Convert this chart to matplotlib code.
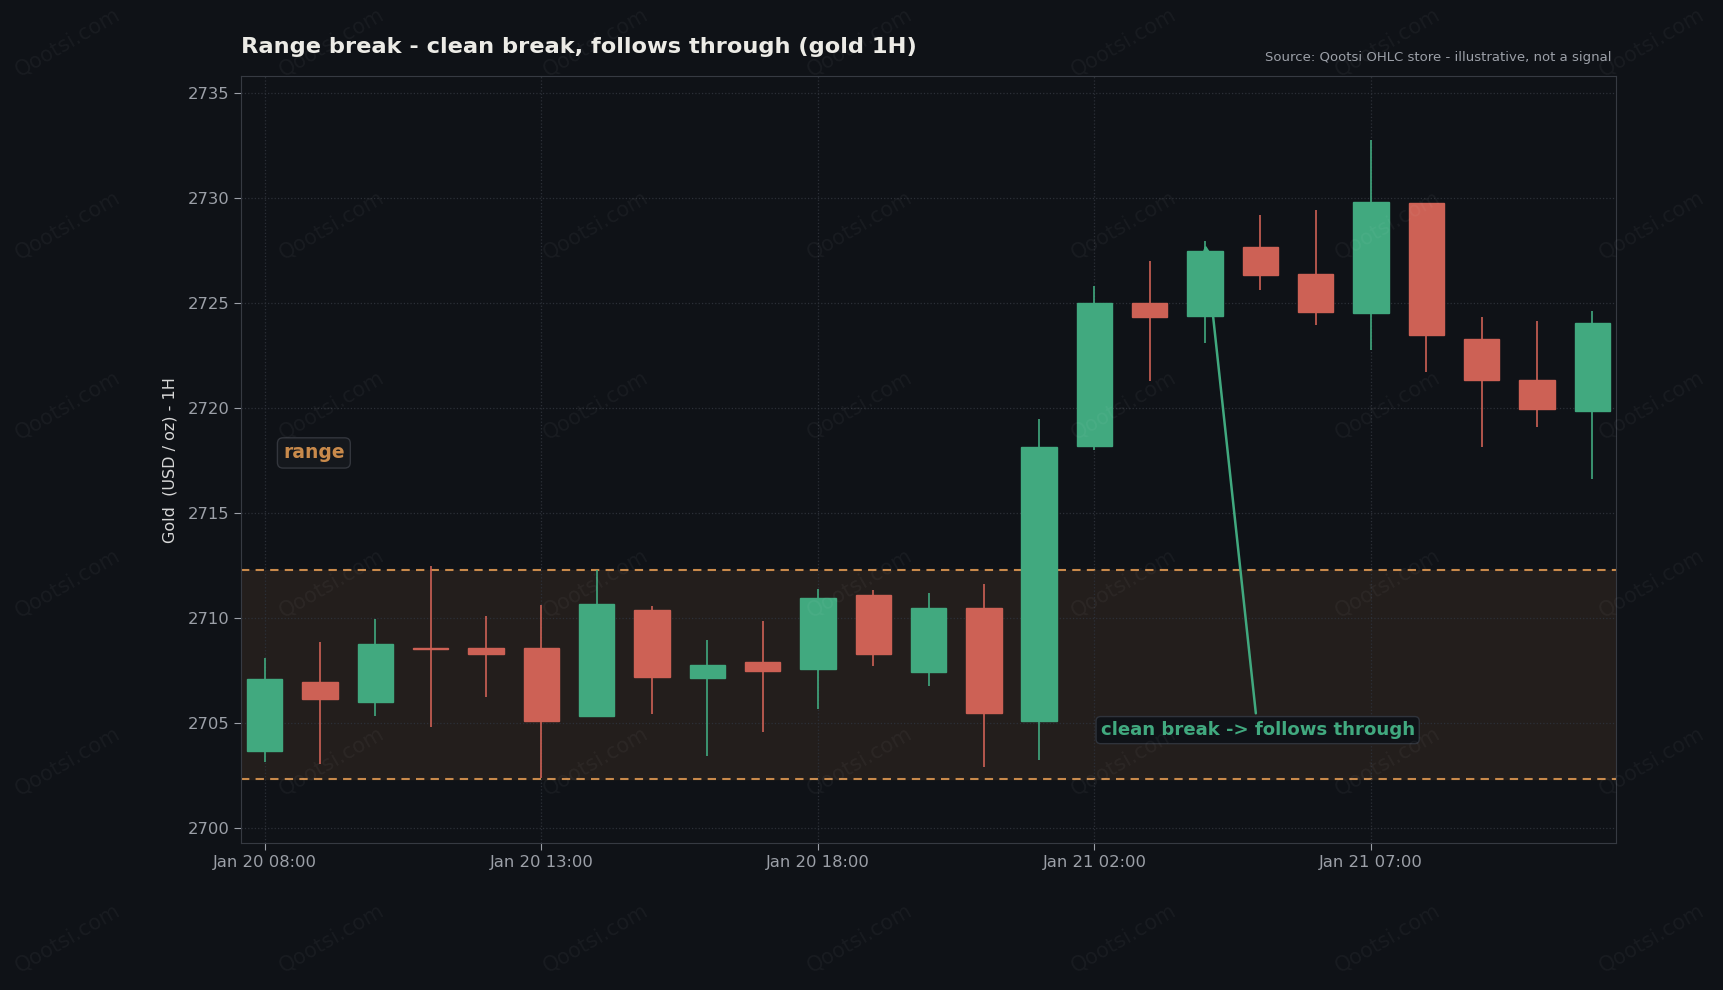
import matplotlib
matplotlib.use("Agg")
import matplotlib.pyplot as plt
import numpy as np

# hourly gold candles (USD/oz)
opens = [2703.64, 2706.93, 2706.01, 2708.55, 2708.55, 2708.55, 2705.31, 2710.36, 2707.12,
         2707.88, 2707.55, 2711.07, 2707.43, 2710.45, 2705.10, 2718.20, 2724.98, 2724.39,
         2727.64, 2726.36, 2724.50, 2729.74, 2723.26, 2721.31, 2719.83]
highs = [2708.09, 2708.85, 2709.94, 2712.47, 2710.09, 2710.61, 2712.28, 2710.56, 2708.94,
         2709.85, 2711.37, 2711.32, 2711.18, 2711.61, 2719.47, 2725.80, 2726.99, 2727.94,
         2729.18, 2729.42, 2732.75, 2729.74, 2724.32, 2724.13, 2724.61]
lows = [2703.15, 2703.04, 2705.32, 2704.80, 2706.24, 2702.36, 2705.31, 2705.43, 2703.43,
        2704.58, 2705.67, 2707.72, 2706.77, 2702.91, 2703.24, 2717.99, 2721.29, 2723.10,
        2725.61, 2723.94, 2722.77, 2721.72, 2718.15, 2719.10, 2716.62]
closes = [2707.07, 2706.15, 2708.74, 2708.50, 2708.29, 2705.10, 2710.64, 2707.17, 2707.74,
          2707.48, 2710.93, 2708.29, 2710.45, 2705.48, 2718.15, 2724.98, 2724.34, 2727.45,
          2726.31, 2724.55, 2729.79, 2723.45, 2721.31, 2719.93, 2724.02]

tick_pos = [0, 5, 10, 15, 20]
tick_labels = ["Jan 20 08:00", "Jan 20 13:00", "Jan 20 18:00", "Jan 21 02:00", "Jan 21 07:00"]

range_low = 2702.32
range_high = 2712.27
break_idx = 17

BG = "#0f1217"
GREEN = "#41a97f"
RED = "#cd6155"
ORANGE = "#c98a4b"
GRID = "#2c3038"
TXT = "#9ca0a8"

fig = plt.figure(figsize=(17.24, 9.9), dpi=100, facecolor=BG)
ax = fig.add_axes([0.1398, 0.1482, 0.7976, 0.775])
ax.set_facecolor(BG)

x = np.arange(len(opens))
o = np.array(opens)
c = np.array(closes)
up = c >= o
colors = [GREEN if u else RED for u in up]

# range box
ax.axhspan(range_low, range_high, color="#231e1c", zorder=0.5)
ax.axhline(range_high, color=ORANGE, ls=(0, (4, 3)), lw=1.5, zorder=1)
ax.axhline(range_low, color=ORANGE, ls=(0, (4, 3)), lw=1.5, zorder=1)

# candles
ax.vlines(x, lows, highs, colors=colors, lw=1.2, zorder=2)
bottoms = np.minimum(o, c)
heights = np.maximum(np.abs(c - o), 0.04)
ax.bar(x, heights, bottom=bottoms, width=0.64, color=colors, edgecolor=colors,
       linewidth=1, zorder=3)

ax.set_xlim(-0.43, 24.43)
ax.set_ylim(2699.26, 2735.8)
ax.set_yticks(np.arange(2700, 2736, 5))
ax.set_xticks(tick_pos)
ax.set_xticklabels(tick_labels)

ax.grid(True, color=GRID, ls=":", lw=0.9, zorder=0)
ax.tick_params(colors=TXT, labelsize=11.8, length=5)
for s in ax.spines.values():
    s.set_color("#363a42")

ax.set_ylabel("Gold  (USD / oz) - 1H", color="#d8d8d8", fontsize=11.5, labelpad=7)

ax.text(0.33, 2717.85, "range", color=ORANGE, fontsize=13.5, fontweight="bold",
        va="center", ha="left", zorder=5,
        bbox=dict(boxstyle="round,pad=0.3", fc="#15181d", ec="#33363d", lw=1))

ax.annotate("clean break -> follows through", xy=(break_idx, highs[break_idx] - 0.05),
            xytext=(17.95, 2704.65), color=GREEN, fontsize=13.1, fontweight="bold",
            ha="center", va="center", zorder=6,
            bbox=dict(boxstyle="round,pad=0.25", fc="#0f1217", ec="#2f333b", lw=1),
            arrowprops=dict(arrowstyle="->", color=GREEN, lw=1.8))

fig.text(0.1398, 0.953, "Range break - clean break, follows through (gold 1H)",
         color="#ecebe6", fontsize=16.2, fontweight="bold", ha="left", va="center")
fig.text(0.9345, 0.942, "Source: Qootsi OHLC store - illustrative, not a signal",
         color=TXT, fontsize=9.5, ha="right", va="center")

# watermark tiles
for wx in np.arange(68, 1724, 264):
    for wy in [42, 225, 405, 583, 761, 938]:
        fig.text(wx / 1724, 1 - wy / 990, "Qootsi.com", color="white", alpha=0.045,
                 fontsize=15, rotation=30, ha="center", va="center", zorder=10)

fig.savefig("out.png", dpi=100, facecolor=BG)
